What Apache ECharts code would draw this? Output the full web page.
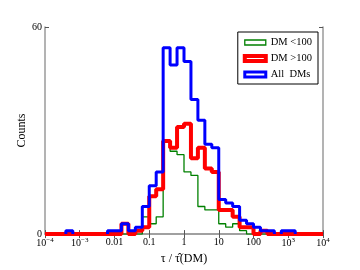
<!DOCTYPE html>
<html>
<head>
<meta charset="utf-8">
<script src="https://cdn.jsdelivr.net/npm/echarts@6/dist/echarts.min.js"></script>
<style>html,body{margin:0;padding:0;background:#fff}#c{width:360px;height:270px}</style>
</head>
<body>
<div id="c"></div>
<script>
// Histogram bins: 40 log-spaced bins from 10^-4 to 10^4 (0.2 decade each)
var binLogMin = -4;
var binLogWidth = 0.2;
var seriesNames = ['DM <100', 'DM >100', 'All  DMs'];
var countsLow = [0,0,0,0,0,0,0,0,0,0, 0,0,0,0,5,3,5,27,24,23, 18,17,8,7,7,3,2,3,1,0, 0,0,0,0,0,0,0,0,0,0];
var countsHigh = [0,0,0,0,0,0,0,0,0,0, 0,3,0,1,2,11,13,27,25,31, 32,22,25,19,18,7,7,5,2,2, 0,1,0,0,0,0,0,0,0,0];
var countsAll = [0,0,0,1,0,0,0,0,0,1, 1,3,1,2,8,14,18,54,49,54, 50,39,33,26,25,10,9,8,4,3, 2,1,1,0,1,1,0,0,0,0];
var xTickLabels = {'-4':'10{s|−4}','-3':'10{s|−3}','-2':'0.01','-1':'0.1','0':'1','1':'10','2':'100','3':'10{s|3}','4':'10{s|4}'};
var yTickLabels = {0:'0', 60:'60'};

function edge(k) { return Math.pow(10, binLogMin + binLogWidth * k); }

// full outline (runs along the baseline for empty bins)
function stepData(counts) {
  var pts = [];
  var n = counts.length;
  pts.push([edge(0), 0]);
  for (var k = 0; k < n; k++) pts.push([edge(k), counts[k]]);
  pts.push([edge(n), counts[n - 1]]);
  pts.push([edge(n), 0]);
  return pts;
}
// outline only over non-empty runs of bins (no baseline segments)
function stepRuns(counts) {
  var pts = [];
  var n = counts.length, k = 0;
  while (k < n) {
    if (counts[k] > 0) {
      var a = k;
      while (k < n && counts[k] > 0) k++;
      pts.push([edge(a), 0]);
      for (var j = a; j < k; j++) pts.push([edge(j), counts[j]]);
      pts.push([edge(k), counts[k - 1]]);
      pts.push([edge(k), 0]);
      pts.push([edge(k), null]);
    } else k++;
  }
  return pts;
}

var FONT = 'Liberation Serif';
var chart = echarts.init(document.getElementById('c'), null, {renderer: 'canvas'});
var axisCol = '#9a9a9a';
var colors = ['#008000', '#ff0000', '#0000ff'];
var widths = [1.3, 4, 3];
var allData = [stepData(countsLow), stepData(countsHigh), stepRuns(countsAll)];

chart.setOption({
  animation: false,
  backgroundColor: '#fff',
  grid: {left: 45, right: 37, top: 27, bottom: 35},
  xAxis: [{
    type: 'log', logBase: 10, min: 1e-4, max: 1e4, interval: 1,
    name: 'τ / τ̂(DM)', nameLocation: 'middle', nameGap: 17,
    nameTextStyle: {fontFamily: FONT, fontSize: 12, color: '#000'},
    axisLine: {show: true, lineStyle: {color: axisCol, width: 1.5}},
    axisTick: {show: true, inside: true, length: 4, lineStyle: {color: '#555', width: 1}},
    splitLine: {show: false},
    axisLabel: {
      fontFamily: FONT, fontSize: 10, color: '#000', margin: 3,
      formatter: function (v) { var e = Math.round(Math.log10(v)); return xTickLabels[String(e)] || ''; },
      rich: {s: {fontFamily: FONT, fontSize: 7, color: '#000', verticalAlign: 'top', padding: [0,0,5,0]}}
    }
  }, {
    type: 'log', logBase: 10, min: 1e-4, max: 1e4, interval: 1, position: 'top',
    axisLine: {show: true, lineStyle: {color: axisCol, width: 1.5}},
    axisTick: {show: true, inside: true, length: 4, lineStyle: {color: '#555', width: 1}},
    axisLabel: {show: false}, splitLine: {show: false}
  }],
  yAxis: [{
    type: 'value', min: 0, max: 60, interval: 60,
    name: 'Counts', nameLocation: 'middle', nameGap: 17, nameMoveOverlap: false,
    nameTextStyle: {fontFamily: FONT, fontSize: 12, color: '#000'},
    axisLine: {show: true, lineStyle: {color: axisCol, width: 1.5}},
    axisTick: {show: true, inside: true, length: 4, lineStyle: {color: '#555'}},
    splitLine: {show: false},
    axisLabel: {fontFamily: FONT, fontSize: 10, color: '#000', margin: 3,
      formatter: function (v) { return yTickLabels[v] !== undefined ? yTickLabels[v] : ''; }}
  }, {
    type: 'value', min: 0, max: 60, interval: 60, position: 'right',
    axisLine: {show: true, lineStyle: {color: axisCol, width: 1.5}},
    axisTick: {show: true, inside: true, length: 4, lineStyle: {color: '#555'}},
    axisLabel: {show: false}, splitLine: {show: false}
  }],
  legend: {
    orient: 'vertical', right: 42, top: 32,
    backgroundColor: '#fff', borderColor: '#000', borderWidth: 1, borderRadius: 0,
    padding: [5, 6, 4, 5], itemGap: 5, itemWidth: 21, itemHeight: 5, icon: 'rect',
    textStyle: {fontFamily: FONT, fontSize: 10.5, color: '#000'},
    data: seriesNames.map(function (n, i) {
      return {name: n, icon: 'rect', itemStyle: {color: '#fff', borderColor: colors[i], borderWidth: widths[i]}};
    })
  },
  series: seriesNames.map(function (n, i) {
    return {
      name: n, type: 'line', step: 'end', symbol: 'none', clip: true, connectNulls: false,
      xAxisIndex: 0, yAxisIndex: 0,
      lineStyle: {color: colors[i], width: widths[i]},
      itemStyle: {color: colors[i]},
      data: allData[i],
      z: 2 + i
    };
  })
});
</script>
</body>
</html>
